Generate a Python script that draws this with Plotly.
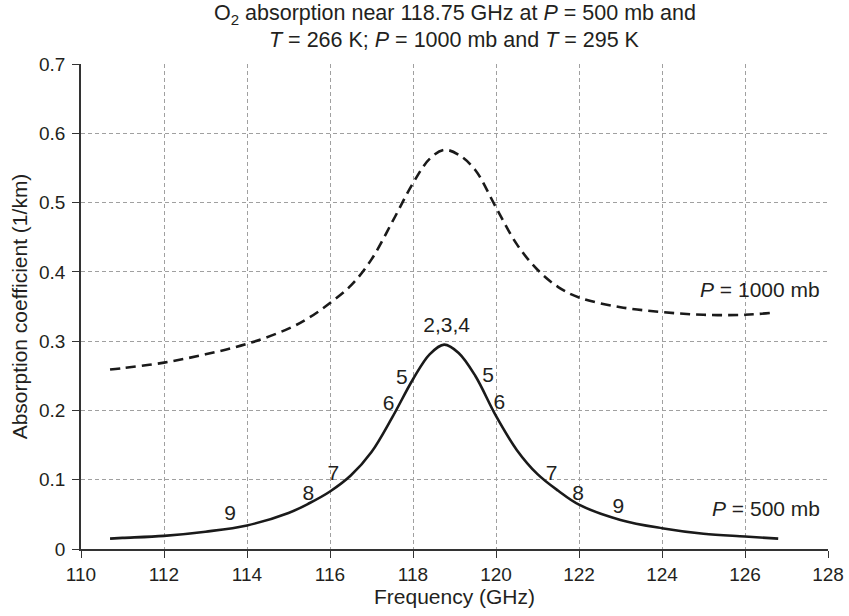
import plotly.graph_objects as go

# Frequency (GHz) and absorption coefficient (1/km)
freq_500 = [110.7, 111, 112, 113, 114, 115, 115.5, 116, 116.5, 117, 117.5, 118, 118.4,
            118.75, 119.1, 119.5, 120, 120.5, 121, 121.5, 122, 123, 124, 125, 126, 126.8]
abs_500 = [0.015, 0.016, 0.019, 0.025, 0.034, 0.052, 0.066, 0.083, 0.106, 0.140, 0.190,
           0.245, 0.281, 0.295, 0.283, 0.250, 0.192, 0.143, 0.108, 0.084, 0.064, 0.042,
           0.030, 0.022, 0.018, 0.015]

freq_1000 = [110.7, 111, 112, 113, 114, 115, 115.5, 116, 116.5, 117, 117.5, 118, 118.4,
             118.75, 119.1, 119.5, 120, 120.5, 121, 121.5, 122, 123, 124, 125, 126, 126.65]
abs_1000 = [0.259, 0.261, 0.269, 0.281, 0.296, 0.318, 0.334, 0.355, 0.380, 0.418, 0.472,
            0.528, 0.563, 0.576, 0.569, 0.547, 0.493, 0.440, 0.403, 0.378, 0.363, 0.349,
            0.342, 0.338, 0.338, 0.341]

# line-number labels on the 500 mb curve
label_text = ["2,3,4", "5", "6", "7", "8", "9", "5", "6", "7", "8", "9"]
label_x = [118.81, 117.73, 117.41, 116.08, 115.48, 113.59, 119.81, 120.08, 121.34, 121.98, 122.95]
label_y = [0.321, 0.246, 0.208, 0.107, 0.078, 0.049, 0.248, 0.209, 0.107, 0.079, 0.059]

x_ticks = [110, 112, 114, 116, 118, 120, 122, 124, 126, 128]
y_ticks = [0, 0.1, 0.2, 0.3, 0.4, 0.5, 0.6, 0.7]
y_ticktext = ["0", "0.1", "0.2", "0.3", "0.4", "0.5", "0.6", "0.7"]

title_line1 = "O<sub>2</sub> absorption near 118.75 GHz at <i>P</i> = 500 mb and"
title_line2 = "<i>T</i> = 266 K; <i>P</i> = 1000 mb and <i>T</i> = 295 K"

FONT = "Liberation Sans, Arial, Helvetica, sans-serif"
TXT = "#231f20"
FS = 21

fig = go.Figure()
fig.add_trace(go.Scatter(x=freq_1000, y=abs_1000, mode="lines",
                         line=dict(color="#1a1a1a", width=2.6, dash="10px,6px", shape="spline"),
                         showlegend=False, hoverinfo="skip"))
fig.add_trace(go.Scatter(x=freq_500, y=abs_500, mode="lines",
                         line=dict(color="#1a1a1a", width=2.6, shape="spline"),
                         showlegend=False, hoverinfo="skip"))
fig.add_trace(go.Scatter(x=label_x, y=label_y, mode="text", text=label_text,
                         textfont=dict(family=FONT, size=FS, color=TXT),
                         textposition="middle center", showlegend=False, hoverinfo="skip"))

fig.add_annotation(x=127.85, y=0.374, xref="x", yref="y", text="<i>P</i> = 1000 mb",
                   showarrow=False, xanchor="right", yanchor="middle",
                   font=dict(family=FONT, size=FS, color=TXT))
fig.add_annotation(x=127.85, y=0.059, xref="x", yref="y", text="<i>P</i> = 500 mb",
                   showarrow=False, xanchor="right", yanchor="middle",
                   font=dict(family=FONT, size=FS, color=TXT))

# two-line title, centred on the plot area (plot area height 485 px)
fig.add_annotation(x=0.5, y=1 + (64 - 15) / 485, xref="paper", yref="paper", text=title_line1,
                   showarrow=False, xanchor="center", yanchor="middle",
                   font=dict(family=FONT, size=21.5, color=TXT))
fig.add_annotation(x=0.5, y=1 + (64 - 40) / 485, xref="paper", yref="paper", text=title_line2,
                   showarrow=False, xanchor="center", yanchor="middle",
                   font=dict(family=FONT, size=21.5, color=TXT))

fig.update_layout(
    width=849, height=616,
    margin=dict(l=81, r=21, t=64, b=67),
    paper_bgcolor="white", plot_bgcolor="white",
    font=dict(family=FONT, size=FS, color=TXT),
    xaxis=dict(range=[110, 128], tickvals=x_ticks, showgrid=True, gridcolor="#a0a0a0",
               griddash="4px,3px", gridwidth=1, showline=True, linecolor="#333333", linewidth=1.5,
               ticks="outside", ticklen=7, tickcolor="#333333", zeroline=False, automargin=False,
               tickfont=dict(size=19),
               title=dict(text="Frequency (GHz)", standoff=6, font=dict(size=FS))),
    yaxis=dict(range=[0, 0.7], tickvals=y_ticks, ticktext=y_ticktext, showgrid=True,
               gridcolor="#a0a0a0", griddash="4px,3px", gridwidth=1, showline=True,
               linecolor="#333333", linewidth=1.5, ticks="outside", ticklen=7, tickcolor="#333333",
               zeroline=False, automargin=False, tickfont=dict(size=19), ticklabelstandoff=3,
               title=dict(text="Absorption coefficient (1/km)", standoff=6, font=dict(size=FS))),
)

# remove the default 8 px page margin so the figure fills the 849x616 window exactly
fig.write_html("out.html", config={"displayModeBar": False},
               post_script="document.body.style.margin='0';document.body.style.overflow='hidden';")
